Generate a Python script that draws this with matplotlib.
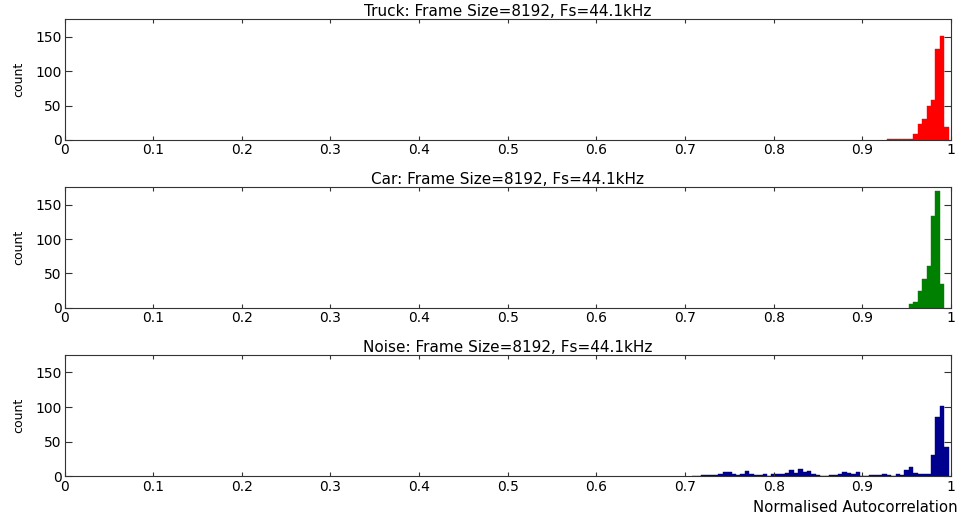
import numpy as np
import matplotlib
matplotlib.use("Agg")
import matplotlib.pyplot as plt

# Histogram bin width (normalised autocorrelation units)
bin_width = 0.005

# Truck: bin centres and counts
truck_bins = [0.93, 0.935, 0.94, 0.945, 0.95, 0.955, 0.96, 0.965, 0.97, 0.975, 0.98, 0.985, 0.99, 0.995]
truck_counts = [1, 1, 1, 2, 2, 1, 8, 23, 30, 49, 58, 132, 151, 19]

# Car: bin centres and counts
car_bins = [0.955, 0.96, 0.965, 0.97, 0.975, 0.98, 0.985, 0.99]
car_counts = [5, 9, 25, 42, 61, 133, 170, 35]

# Noise: counts from 0.71 to 0.995 in steps of one bin
noise_start = 0.71
noise_counts = [1, 1, 2, 2, 2, 2, 3, 6, 6, 4,
                2, 4, 8, 3, 2, 2, 4, 1, 3, 3,
                3, 5, 9, 5, 11, 6, 8, 4, 2, 1,
                1, 2, 2, 3, 6, 5, 3, 6, 1, 1,
                2, 2, 2, 3, 2, 1, 3, 2, 9, 14,
                5, 4, 4, 4, 31, 85, 102, 42]
noise_bins = np.round(noise_start + bin_width * np.arange(len(noise_counts)), 3)

titles = ["Truck: Frame Size=8192, Fs=44.1kHz",
          "Car: Frame Size=8192, Fs=44.1kHz",
          "Noise: Frame Size=8192, Fs=44.1kHz"]
colors = ["#FF0000", "#008000", "#00008F"]
series = [(truck_bins, truck_counts), (car_bins, car_counts), (noise_bins, noise_counts)]

xticks = [0, 0.1, 0.2, 0.3, 0.4, 0.5, 0.6, 0.7, 0.8, 0.9, 1]
xticklabels = ["0", "0.1", "0.2", "0.3", "0.4", "0.5", "0.6", "0.7", "0.8", "0.9", "1"]
yticks = [0, 50, 100, 150]

plt.rcParams["font.family"] = ["DejaVu Sans"]

W, H = 964, 520
fig = plt.figure(figsize=(W / 100, H / 100), dpi=100)

# Axes boxes in pixels: (left, top, right, bottom)
boxes = [(64.5, 19, 951, 140), (64.5, 187, 951, 307.7), (64.5, 354.5, 951, 476.3)]

for (l, t, r, b), (bins, counts), title, col in zip(boxes, series, titles, colors):
    ax = fig.add_axes([l / W, 1 - b / H, (r - l) / W, (b - t) / H])
    ax.bar(bins, counts, width=bin_width, align="center", color=col,
           edgecolor=col, linewidth=0.3)
    ax.set_xlim(0, 1)
    ax.set_ylim(0, 176)
    ax.set_xticks(xticks)
    ax.set_xticklabels(xticklabels)
    ax.set_yticks(yticks)
    ax.tick_params(axis="both", direction="in", top=True, right=True,
                   labelsize=10, colors="#333333", labelcolor="black")
    ax.tick_params(axis="x", length=3, pad=2.5)
    ax.tick_params(axis="y", length=5, pad=2)
    for s in ax.spines.values():
        s.set_color("#333333")
        s.set_linewidth(0.8)
    ax.set_title(title, fontsize=11, pad=2)
    ax.set_ylabel("count", fontsize=9, labelpad=7)

fig.text(958 / W, 1 - 507 / H, "Normalised Autocorrelation", ha="right",
         va="center", fontsize=10.7)

fig.savefig("out.png", dpi=100)
